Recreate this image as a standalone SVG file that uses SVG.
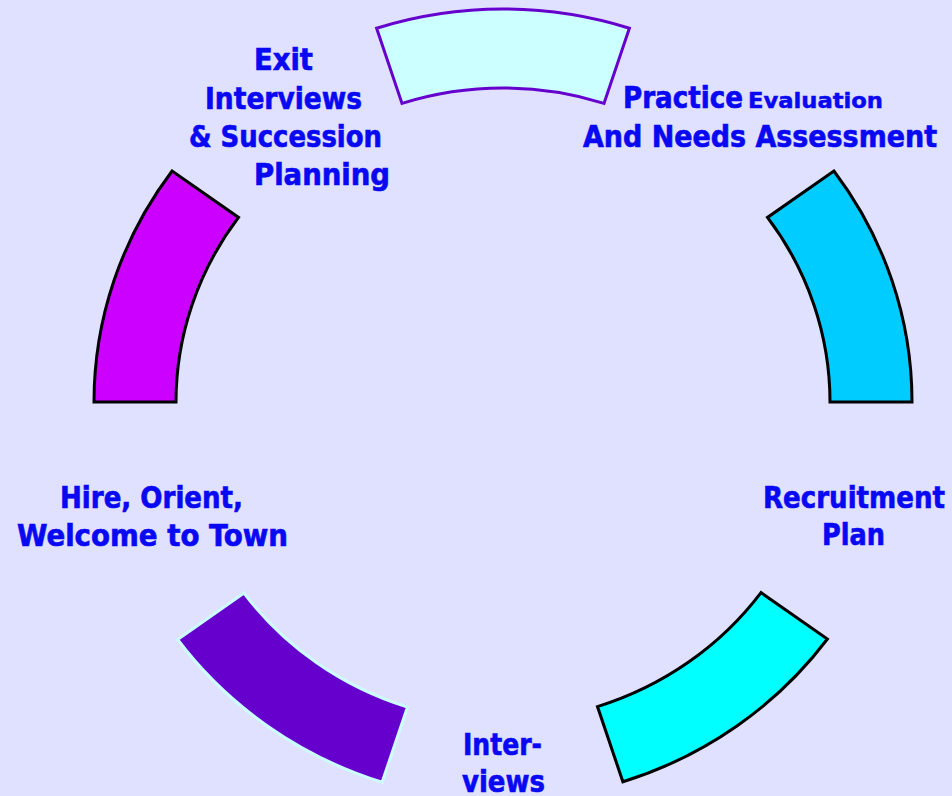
<svg xmlns="http://www.w3.org/2000/svg" width="952" height="796" viewBox="0 0 952 796">
  <style>
    .seg { stroke-width: 3; stroke-linejoin: miter; }
    .lbl { font-family: "DejaVu Sans Condensed", "DejaVu Sans", Verdana, sans-serif; font-stretch: condensed; font-weight: bold; font-size: 30px; fill: #0808f2; stroke: #0808f2; stroke-width: 0.6px; }
    .small { font-size: 22px; stroke-width: 0.45px; }
  </style>
  <rect x="0" y="0" width="952" height="796" fill="#e0e0ff"/>

  <!-- ring of five arc segments -->
  <g id="seg-top">
    <path class="seg" d="M 376.6,28.2 A 409 393 0 0 1 629.4,28.2 L 604,103.4 A 327 314 0 0 0 402,103.4 Z" fill="#ccffff" stroke="#6600cc" stroke-width="2.5"/>
  </g>
  <g id="seg-right">
    <path class="seg" d="M 833.9,171 A 409 393 0 0 1 912,402 L 830,402 A 327 314 0 0 0 767.5,217.4 Z" fill="#00ccff" stroke="#000000"/>
  </g>
  <g id="seg-bottom-right">
    <path class="seg" d="M 827.4,639 A 409 393 0 0 1 622.9,781.8 L 597.5,706.6 A 327 314 0 0 0 761,592.6 Z" fill="#00ffff" stroke="#000000"/>
  </g>
  <g id="seg-bottom-left">
    <path class="seg" d="M 382.1,782.3 A 409 393 0 0 1 177.6,639.5 L 244,593.1 A 327 314 0 0 0 407.5,707.1 Z" fill="#6600cc" stroke="#ccffff" stroke-width="2.5"/>
  </g>
  <g id="seg-left">
    <path class="seg" d="M 94,402 A 409 393 0 0 1 172.1,171 L 238.5,217.4 A 327 314 0 0 0 176,402 Z" fill="#cc00ff" stroke="#000000"/>
  </g>

  <!-- step labels -->
  <g id="label-exit">
    <text class="lbl" x="254" y="70" textLength="59" lengthAdjust="spacingAndGlyphs">Exit</text>
    <text class="lbl" x="205" y="109" textLength="157" lengthAdjust="spacingAndGlyphs">Interviews</text>
    <text class="lbl" x="189" y="147" textLength="193" lengthAdjust="spacingAndGlyphs">&amp; Succession</text>
    <text class="lbl" x="254" y="185" textLength="136" lengthAdjust="spacingAndGlyphs">Planning</text>
  </g>
  <g id="label-practice">
    <text class="lbl" x="623" y="108" textLength="120" lengthAdjust="spacingAndGlyphs">Practice</text>
    <text class="lbl small" x="748" y="108" textLength="135" lengthAdjust="spacingAndGlyphs">Evaluation</text>
    <text class="lbl" x="583" y="147" textLength="354" lengthAdjust="spacingAndGlyphs">And Needs Assessment</text>
  </g>
  <g id="label-recruitment">
    <text class="lbl" x="763" y="508" textLength="182" lengthAdjust="spacingAndGlyphs">Recruitment</text>
    <text class="lbl" x="822" y="545" textLength="63" lengthAdjust="spacingAndGlyphs">Plan</text>
  </g>
  <g id="label-interviews">
    <text class="lbl" x="463" y="755" textLength="79" lengthAdjust="spacingAndGlyphs">Inter-</text>
    <text class="lbl" x="462" y="792" textLength="83" lengthAdjust="spacingAndGlyphs">views</text>
  </g>
  <g id="label-hire">
    <text class="lbl" x="60" y="508" textLength="183" lengthAdjust="spacingAndGlyphs">Hire, Orient,</text>
    <text class="lbl" x="17" y="546" textLength="271" lengthAdjust="spacingAndGlyphs">Welcome to Town</text>
  </g>
</svg>
